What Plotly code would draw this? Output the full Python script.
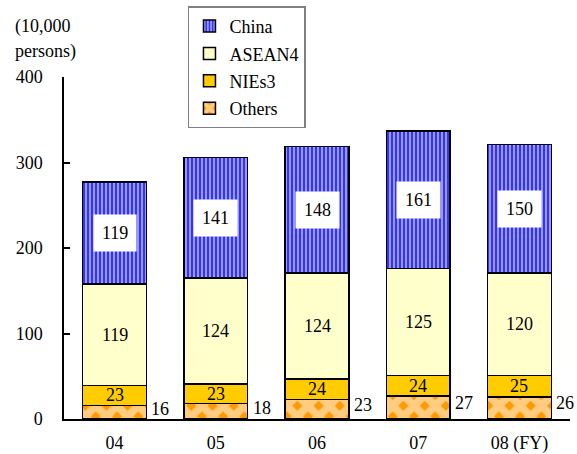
import plotly.graph_objects as go

# Fiscal years and headcount by region (unit: 10,000 persons)
years = ["04", "05", "06", "07", "08 (FY)"]
others = [16, 18, 23, 27, 26]
nies3 = [23, 23, 24, 24, 25]
asean4 = [119, 124, 124, 125, 120]
china = [119, 141, 148, 161, 150]

FONT = "Liberation Serif, Times New Roman, serif"
BAR_W = 0.63
x = list(range(len(years)))

fig = go.Figure()

# (name, values, legend rank, fill colour, pattern) in stacking order, bottom to top
series = [
    ("Others", others, 4, "#FF9900",
     dict(fillmode="overlay", fgcolor="white", shape="x", size=15, solidity=0.78)),
    ("NIEs3", nies3, 3, "#FFCC00", None),
    ("ASEAN4", asean4, 2, "#FFFFCC", None),
    ("China", china, 1, "#3333FF",
     dict(fillmode="overlay", fgcolor="white", shape="|", size=4, solidity=0.5)),
]

for name, vals, rank, color, pat in series:
    marker = dict(color=color, line=dict(color="black", width=1.5))
    if pat:
        marker["pattern"] = pat
    fig.add_trace(go.Bar(
        x=x, y=vals, name=name, width=BAR_W, marker=marker,
        legendgroup=name, legendrank=rank, hoverinfo="skip",
    ))

annotations = []
for i in x:
    base_n = others[i]
    base_a = base_n + nies3[i]
    base_c = base_a + asean4[i]
    # Others: value written to the right of the bar
    annotations.append(dict(
        x=i + BAR_W / 2, y=others[i] * 0.7, text=str(others[i]),
        xanchor="left", yanchor="middle", xshift=3, showarrow=False,
    ))
    annotations.append(dict(
        x=i, y=base_n + nies3[i] / 2, text=str(nies3[i]), showarrow=False,
    ))
    annotations.append(dict(
        x=i, y=base_a + asean4[i] / 2, text=str(asean4[i]), showarrow=False,
    ))
    annotations.append(dict(
        x=i, y=base_c + china[i] / 2, text=str(china[i]), showarrow=False,
        bgcolor="white", borderpad=8,
    ))

# Unit label above the value axis
annotations.append(dict(
    xref="paper", yref="paper", x=-0.1, y=1.149, text="(10,000",
    xanchor="left", yanchor="middle", showarrow=False,
))
annotations.append(dict(
    xref="paper", yref="paper", x=-0.1, y=1.076, text="persons)",
    xanchor="left", yanchor="middle", showarrow=False,
))

fig.update_layout(
    width=577, height=454,
    margin=dict(l=64, r=7, t=76, b=35),
    barmode="stack",
    paper_bgcolor="white", plot_bgcolor="white",
    font=dict(family=FONT, size=18, color="black"),
    annotations=annotations,
    showlegend=True,
    legend=dict(
        traceorder="grouped", tracegroupgap=1,
        x=0.245, y=1.203, xanchor="left", yanchor="top",
        bordercolor="#808080", borderwidth=1.5, bgcolor="white",
        font=dict(family=FONT, size=18),
    ),
    xaxis=dict(
        range=[-0.5, 4.5], tickmode="array", tickvals=x, ticktext=years,
        showline=True, linecolor="black", linewidth=1.5,
        ticks="", showgrid=False, zeroline=False, ticklabelstandoff=7,
        automargin=False,
    ),
    yaxis=dict(
        range=[0, 400], tickvals=[0, 100, 200, 300, 400],
        showline=True, linecolor="black", linewidth=1.5,
        ticks="inside", ticklen=6, tickcolor="black", tickwidth=1.5,
        showgrid=False, zeroline=False, ticklabelstandoff=16,
        automargin=False,
    ),
)

fig.write_html("out.html")
